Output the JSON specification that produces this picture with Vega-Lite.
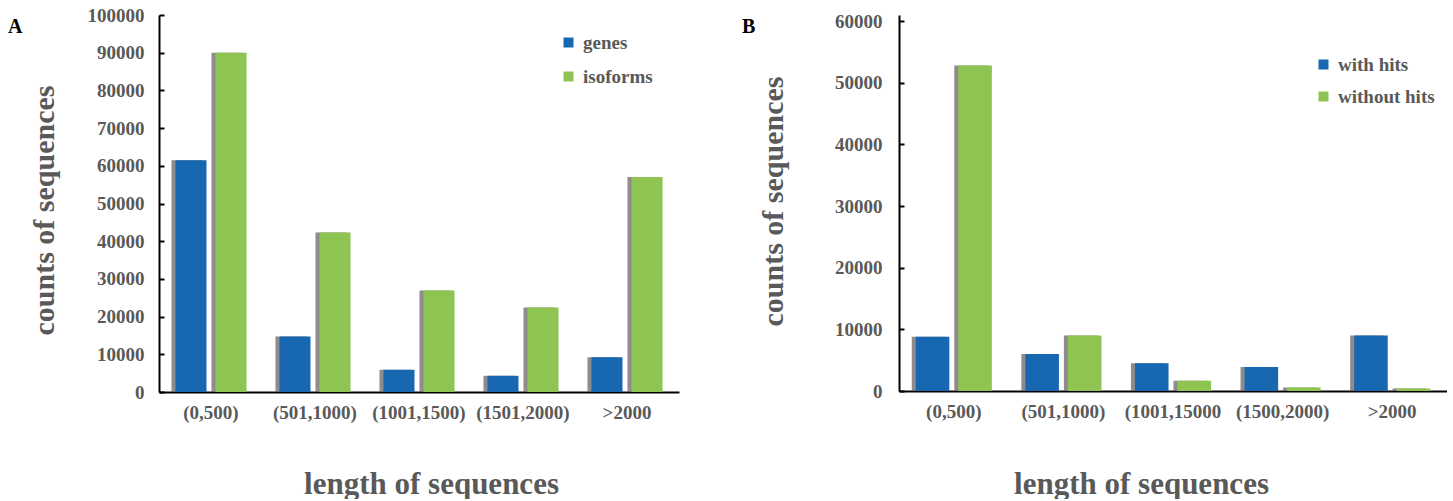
{
  "$schema": "https://vega.github.io/schema/vega-lite/v6.json",
  "bounds": "flush",
  "padding": {"left": 8, "top": 6, "right": 0, "bottom": 0},
  "spacing": 220,
  "background": "white",
  "config": {
    "view": {"stroke": null},
    "font": "Liberation Serif",
    "axis": {
      "grid": false,
      "domainColor": "black",
      "domainWidth": 2,
      "tickColor": "black",
      "tickWidth": 2,
      "labelFont": "Liberation Serif",
      "labelFontWeight": "bold",
      "labelColor": "#595959",
      "labelFontSize": 19,
      "titleFont": "Liberation Serif",
      "titleFontWeight": "bold",
      "titleColor": "#595959",
      "titleFontSize": 30
    },
    "axisX": {
      "ticks": false,
      "labelAngle": 0,
      "labelPadding": 11,
      "labelBaseline": "top",
      "titleFontSize": 31,
      "titleBaseline": "alphabetic",
      "titleAlign": "center"
    },
    "axisY": {
      "tickSize": -5,
      "labelPadding": 20,
      "titleAngle": -90,
      "titleBaseline": "alphabetic",
      "titleAlign": "center"
    },
    "legend": {
      "orient": "none",
      "title": null,
      "symbolType": "square",
      "symbolSize": 100,
      "symbolStrokeWidth": 0,
      "labelFont": "Liberation Serif",
      "labelFontWeight": "bold",
      "labelColor": "#595959",
      "labelFontSize": 19,
      "labelOffset": 5,
      "padding": 0
    }
  },
  "datasets": {
    "a": [
      {"length": "(0,500)", "series": "genes", "count": 61500},
      {"length": "(0,500)", "series": "isoforms", "count": 90000},
      {"length": "(501,1000)", "series": "genes", "count": 14700},
      {"length": "(501,1000)", "series": "isoforms", "count": 42300},
      {"length": "(1001,1500)", "series": "genes", "count": 5900},
      {"length": "(1001,1500)", "series": "isoforms", "count": 26900},
      {"length": "(1501,2000)", "series": "genes", "count": 4300},
      {"length": "(1501,2000)", "series": "isoforms", "count": 22400},
      {"length": ">2000", "series": "genes", "count": 9200},
      {"length": ">2000", "series": "isoforms", "count": 57000}
    ],
    "b": [
      {"length": "(0,500)", "series": "with hits", "count": 8800},
      {"length": "(0,500)", "series": "without hits", "count": 52800},
      {"length": "(501,1000)", "series": "with hits", "count": 6000},
      {"length": "(501,1000)", "series": "without hits", "count": 9000},
      {"length": "(1001,15000", "series": "with hits", "count": 4500},
      {"length": "(1001,15000", "series": "without hits", "count": 1650},
      {"length": "(1500,2000)", "series": "with hits", "count": 3900},
      {"length": "(1500,2000)", "series": "without hits", "count": 550},
      {"length": ">2000", "series": "with hits", "count": 9000},
      {"length": ">2000", "series": "without hits", "count": 420}
    ]
  },
  "hconcat": [
    {
      "width": 520,
      "height": 377,
      "data": {"name": "a"},
      "title": {
        "text": "A",
        "anchor": "start",
        "frame": "group",
        "orient": "top",
        "dx": -151,
        "dy": 47,
        "offset": 0,
        "baseline": "alphabetic",
        "font": "Liberation Serif",
        "fontWeight": "bold",
        "fontSize": 20,
        "color": "black"
      },
      "encoding": {
        "x": {
          "field": "length",
          "type": "nominal",
          "sort": null,
          "scale": {"paddingInner": 0.23, "paddingOuter": 0.115},
          "axis": {"title": "length of sequences", "titleX": 272, "titleY": 101}
        },
        "y": {
          "field": "count",
          "type": "quantitative",
          "scale": {"domain": [0, 100000], "nice": false},
          "axis": {
            "values": [0, 10000, 20000, 30000, 40000, 50000, 60000, 70000, 80000, 90000, 100000],
            "format": "d",
            "title": "counts of sequences",
            "titleX": -106,
            "titleY": 195
          }
        }
      },
      "layer": [
        {
          "mark": {"type": "bar", "color": "#6e6464", "opacity": 0.75},
          "encoding": {
            "xOffset": {
              "field": "series",
              "type": "nominal",
              "sort": ["genes", "isoforms"],
              "scale": {"paddingInner": 0.225, "paddingOuter": 0.1125, "range": [-4, 76.08]}
            }
          }
        },
        {
          "mark": {"type": "bar"},
          "encoding": {
            "xOffset": {
              "field": "series",
              "type": "nominal",
              "sort": ["genes", "isoforms"],
              "scale": {"paddingInner": 0.225, "paddingOuter": 0.1125}
            },
            "color": {
              "field": "series",
              "type": "nominal",
              "scale": {"domain": ["genes", "isoforms"], "range": ["#1767B1", "#8DC452"]},
              "legend": {"legendX": 400, "legendY": 18, "rowPadding": 14}
            }
          }
        }
      ],
      "resolve": {"scale": {"xOffset": "independent"}}
    },
    {
      "width": 548,
      "height": 376,
      "data": {"name": "b"},
      "title": {
        "text": "B",
        "anchor": "start",
        "frame": "group",
        "orient": "top",
        "dx": -157,
        "dy": 41,
        "offset": 0,
        "baseline": "alphabetic",
        "font": "Liberation Serif",
        "fontWeight": "bold",
        "fontSize": 20,
        "color": "black"
      },
      "encoding": {
        "x": {
          "field": "length",
          "type": "nominal",
          "sort": null,
          "scale": {"paddingInner": 0.224, "paddingOuter": 0.112},
          "axis": {"title": "length of sequences", "titleX": 242, "titleY": 102}
        },
        "y": {
          "field": "count",
          "type": "quantitative",
          "scale": {"domain": [0, 60973], "nice": false},
          "axis": {
            "values": [0, 10000, 20000, 30000, 40000, 50000, 60000],
            "format": "d",
            "labelPadding": 22,
            "title": "counts of sequences",
            "titleX": -117,
            "titleY": 186
          }
        }
      },
      "layer": [
        {
          "mark": {"type": "bar", "color": "#6e6464", "opacity": 0.75},
          "encoding": {
            "xOffset": {
              "field": "series",
              "type": "nominal",
              "sort": ["with hits", "without hits"],
              "scale": {"paddingInner": 0.21, "paddingOuter": 0.105, "range": [-4, 81.05]}
            }
          }
        },
        {
          "mark": {"type": "bar"},
          "encoding": {
            "xOffset": {
              "field": "series",
              "type": "nominal",
              "sort": ["with hits", "without hits"],
              "scale": {"paddingInner": 0.21, "paddingOuter": 0.105}
            },
            "color": {
              "field": "series",
              "type": "nominal",
              "scale": {"domain": ["with hits", "without hits"], "range": ["#1767B1", "#8DC452"]},
              "legend": {"legendX": 415, "legendY": 40, "rowPadding": 12}
            }
          }
        }
      ],
      "resolve": {"scale": {"xOffset": "independent"}}
    }
  ],
  "resolve": {"scale": {"color": "independent", "y": "independent", "x": "independent", "xOffset": "independent"}}
}
